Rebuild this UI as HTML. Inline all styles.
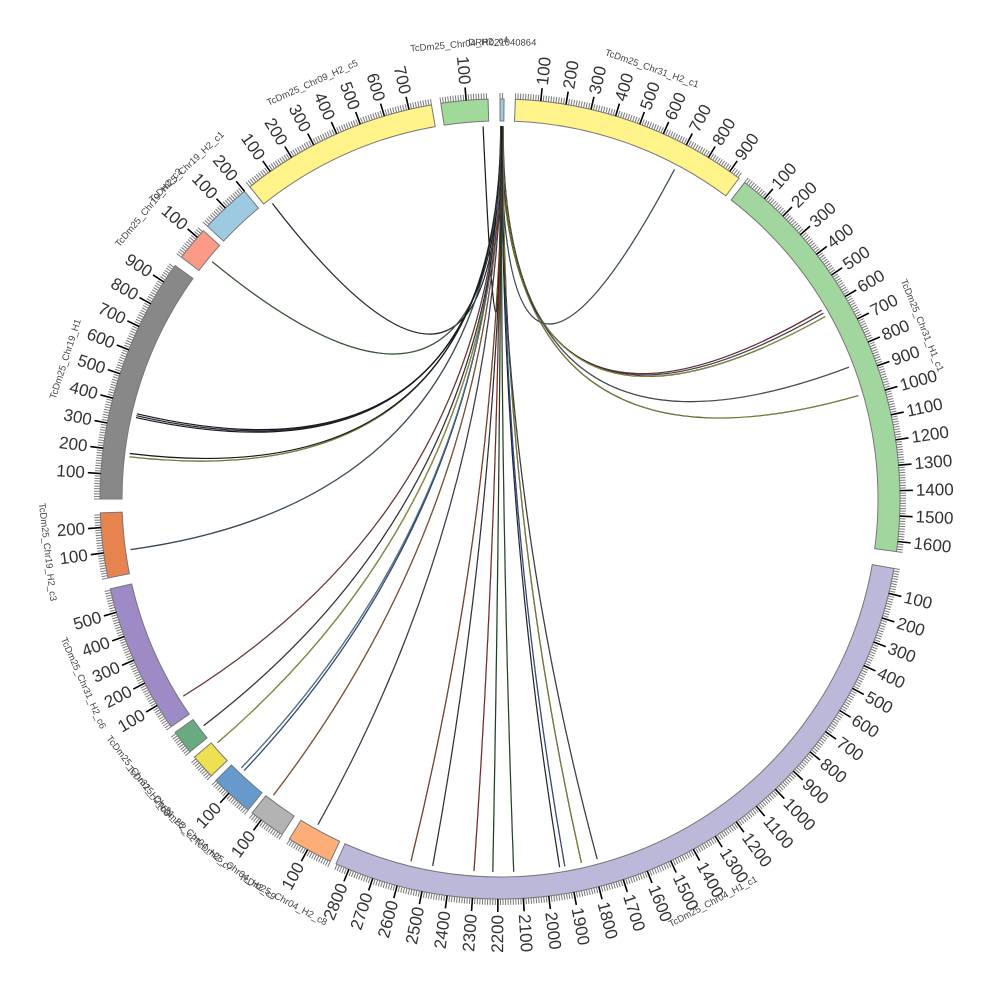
<!DOCTYPE html>
<html><head><meta charset="utf-8"><style>
html,body{margin:0;padding:0;background:#fff;}
svg{display:block;}
</style></head><body>
<svg id="s" width="1000" height="1000" xmlns="http://www.w3.org/2000/svg" font-family="Liberation Sans, sans-serif"></svg>
<script>
const S=document.getElementById('s');
const cx=500,cy=499,R1=378,R2=400,K=0.0365;
function pt(r,a){const t=a*Math.PI/180;return [cx+r*Math.sin(t),cy-r*Math.cos(t)];}
let h='';
const segs=[
 [0,16,'#9ecae1','DRR021040864'],
 [351.5,186,'#a1d99b','TcDm25_Chr04_H2_c4'],
 [2.2,945,'#fff38a','TcDm25_Chr31_H2_c1'],
 [37.7,1640,'#a1d69e','TcDm25_Chr31_H1_c1'],
 [100,2855,'#bcb8da','TcDm25_Chr04_H1_c1'],
 [205.1,183,'#fdae78','TcDm25_Chr04_H2_c8'],
 [213,145,'#b3b3b3','TcDm25_Chr04_H2_c9'],
 [219,172,'#6699cc','TcDm25_Chr04_H2_c7'],
 [226.2,99,'#eee050','TcDm25_Chr31_H2_c2'],
 [230.8,96,'#6aaa80','TcDm25_Chr31_H2_c3'],
 [235.3,595,'#9e8ac4','TcDm25_Chr31_H2_c6'],
 [258.6,258,'#e6834f','TcDm25_Chr19_H2_c3'],
 [270,978,'#888888','TcDm25_Chr19_H1'],
 [307.2,135,'#fb9a86','TcDm25_Chr19_H2_c2'],
 [313,200,'#9ecae1','TcDm25_Chr19_H2_c1'],
 [321.3,790,'#fff38a','TcDm25_Chr09_H2_c5']
];
const links=[
 [357.4,'#222'],[27.9,'#4a6a8a'],[59.6,'#b33'],[60.1,'#4a6a8a'],[60.7,'#cc3'],[69.3,'#667'],[73.9,'#aa3'],
 [322.4,'#335'],[309.5,'#4a7a4a'],[282.6,'#222'],[282.9,'#335'],[283.2,'#222'],[276.5,'#aa3'],[277,'#222'],
 [262.2,'#4a6a8a'],[238.1,'#a44'],[232.6,'#444'],[229.2,'#cc3'],[223.3,'#36c'],[223.9,'#6ac'],[217.4,'#c63'],
 [209.2,'#557'],[193.8,'#b52'],[190.4,'#444'],[184,'#c33'],[181.1,'#262'],[177.9,'#363'],[170.8,'#335'],[170,'#36c'],
 [167.4,'#aa3'],[164.9,'#556']
];
links.forEach((l,i)=>{
 const p=pt(373,l[0]);const q=pt(373,0.1+(i%6)*0.08);
 const d=`M${p[0].toFixed(1)},${p[1].toFixed(1)} Q${cx},${cy} ${q[0].toFixed(1)},${q[1].toFixed(1)}`;
 h+=`<path d="${d}" fill="none" stroke="#111" stroke-width="1.2"/>`;
 h+=`<path d="${d}" fill="none" stroke="${l[1]}" stroke-width="0.6"/>`;
});
segs.forEach(s=>{
 const a0=s[0],len=s[1],a1=a0+len*K;
 const p1=pt(R2,a0),p2=pt(R2,a1),p3=pt(R1,a1),p4=pt(R1,a0);
 const lg=(a1-a0)>180?1:0;
 h+=`<path d="M${p1} A${R2},${R2} 0 ${lg} 1 ${p2} L${p3} A${R1},${R1} 0 ${lg} 0 ${p4} Z" fill="${s[2]}" stroke="#777" stroke-width="1"/>`;
 for(let u=0;u<=len;u+=10){
  const a=a0+u*K;
  if(u%100==0&&u>0){
   const A=pt(R2,a),B=pt(R2+13,a);
   h+=`<line x1="${A[0]}" y1="${A[1]}" x2="${B[0]}" y2="${B[1]}" stroke="#000" stroke-width="1.6"/>`;
   const T=pt(416,a);const am=((a%360)+360)%360;
   const rot=am<180?am-90:am+90, anc=am<180?'start':'end';
   h+=`<text x="0" y="0" transform="translate(${T[0].toFixed(1)},${T[1].toFixed(1)}) rotate(${rot.toFixed(1)})" text-anchor="${anc}" dominant-baseline="central" font-size="17" fill="#333">${u}</text>`;
  }else{
   const A=pt(R2,a),B=pt(R2+6,a);
   h+=`<line x1="${A[0]}" y1="${A[1]}" x2="${B[0]}" y2="${B[1]}" stroke="#777" stroke-width="1"/>`;
  }
 }
 const m=((a0+a1)/2+360)%360;
 const T=pt(456,m);const rot=(m>90&&m<270)?m-180:m;
 h+=`<text x="0" y="0" transform="translate(${T[0].toFixed(1)},${T[1].toFixed(1)}) rotate(${rot.toFixed(1)})" text-anchor="middle" dominant-baseline="central" font-size="9.5" fill="#444">${s[3]}</text>`;
});
S.innerHTML=h;
</script>
</body></html>
